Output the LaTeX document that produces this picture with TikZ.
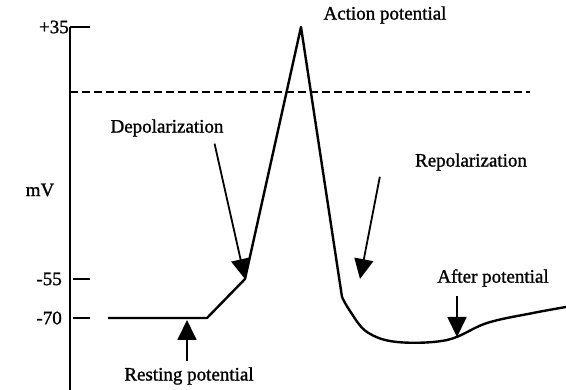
\documentclass[tikz,border=0pt]{standalone}
\usepackage{fontspec}
\setmainfont[FakeBold=1.2]{Liberation Serif}
\usetikzlibrary{arrows.meta,positioning}
\tikzset{
	>={Triangle[length=20pt,width=19pt]},
	lbl/.style={font=\fontsize{19}{21}\selectfont, inner sep=0pt},
	axis/.style={line width=2pt},
	trace/.style={line width=2.4pt, line join=round},
	pointer/.style={->, line width=1.8pt},
}

\begin{document}
\begin{tikzpicture}[x=1pt,y=-1pt]
	\useasboundingbox (0,0) rectangle (566,390);
	% axis and ticks
	\draw[axis] (70,27) -- (70,390);
	\draw[axis] (70,27) -- (90,27);
	\draw[axis] (73,279) -- (90,279);
	\draw[axis] (73,318) -- (90,318);
	\node[lbl, anchor=east] (top) at (69,27) {+35};
	\node[lbl, anchor=east] (mid) at (62,279) {-55};
	\node[lbl, anchor=east] (low) at (62,318) {-70};
	\node[lbl] (unit) at (40,190) {mV};
	% threshold line
	\draw[line width=2.6pt, dash pattern=on 8pt off 4pt] (70,92) -- (530,92);
	% the trace
	\coordinate (start) at (108,318);
	\coordinate (knee) at (207,318);
	\coordinate (thresh) at (245,279);
	\coordinate (peak) at (301,27);
	\coordinate (fall) at (342,297);
	\draw[trace] (start) -- (knee) -- (thresh) -- (peak) -- (fall);
	\draw[trace] plot[smooth, tension=0.6] coordinates {(342,297) (350,311) (367,332) (397,342) (447,340) (487,323) (533,313) (566,307)};
	% labels
	\node[lbl] (ap) at (385,15) {Action potential};
	\node[lbl] (depol) at (167,128) {Depolarization};
	\node[lbl] (repol) at (471,162) {Repolarization};
	\node[lbl] (after) at (493,278) {After potential};
	\node[lbl] (rest) at (189,376) {Resting potential};
	% pointers
	\coordinate (restpt) at (187,320);
	\coordinate (repolpt) at (360,279);
	\coordinate (afterpt) at (457,337);
	\draw[pointer, shorten <=7pt] ([xshift=46pt]depol.south) -- (thresh);
	\draw[pointer, shorten <=6pt] ([xshift=-90pt]repol.south) -- (repolpt);
	\draw[pointer, shorten <=9pt] ([xshift=-36pt]after.south) -- (afterpt);
	\draw[pointer, shorten <=6pt] ([xshift=-2pt]rest.north) -- (restpt);
\end{tikzpicture}
\end{document}
